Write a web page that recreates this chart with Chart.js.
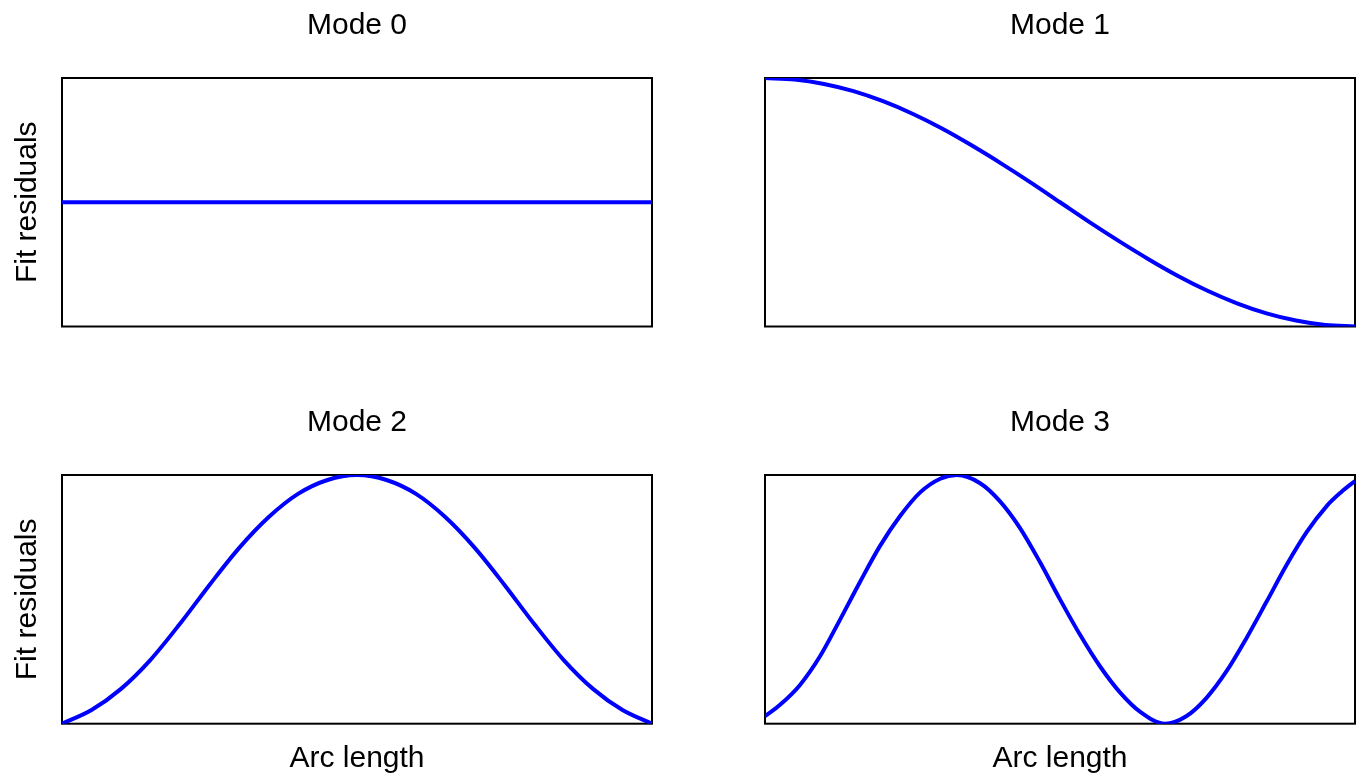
<!DOCTYPE html>
<html>
<head>
<meta charset="utf-8">
<script src="https://cdn.jsdelivr.net/npm/chart.js@4/dist/chart.umd.min.js"></script>
<style>
  html, body { margin: 0; padding: 0; background: #ffffff; }
  body { width: 1363px; height: 779px; position: relative; overflow: hidden; }
  canvas { position: absolute; }
</style>
</head>
<body>
<canvas id="m0" style="left:0px;top:0px;width:681px;height:389px" width="681" height="389"></canvas>
<canvas id="m1" style="left:681px;top:0px;width:682px;height:389px" width="682" height="389"></canvas>
<canvas id="m2" style="left:0px;top:389px;width:681px;height:390px" width="681" height="390"></canvas>
<canvas id="m3" style="left:681px;top:389px;width:682px;height:390px" width="682" height="390"></canvas>
<script>
// Normalised arc-length positions and mode shapes (range -1 .. 1)
const arcMode0 = [0, 1];
const mode0Values = [0, 0];

const arcMode1 = [0, 0.05, 0.10, 0.15, 0.20, 0.25, 0.30, 0.35, 0.40, 0.45, 0.50,
                  0.55, 0.60, 0.65, 0.70, 0.75, 0.80, 0.85, 0.90, 0.95, 1.0];
const mode1Values = [1, 0.988, 0.952, 0.894, 0.813, 0.712, 0.593, 0.458, 0.313, 0.16, 0,
                     -0.16, -0.313, -0.458, -0.593, -0.712, -0.813, -0.894, -0.952, -0.988, -1];

const arcMode2 = [0, 0.05, 0.10, 0.15, 0.20, 0.25, 0.30, 0.35, 0.40, 0.45, 0.50,
                  0.55, 0.60, 0.65, 0.70, 0.75, 0.80, 0.85, 0.90, 0.95, 1.0];
const mode2Values = [-1, -0.89, -0.72, -0.486, -0.196, 0.116, 0.412, 0.66, 0.848, 0.96, 1,
                     0.96, 0.848, 0.66, 0.412, 0.116, -0.196, -0.486, -0.72, -0.89, -1];

const arcMode3 = [0, 0.025, 0.059, 0.093, 0.127, 0.161, 0.195, 0.229, 0.263, 0.297, 0.325,
                  0.364, 0.398, 0.432, 0.466, 0.5, 0.534, 0.568, 0.602, 0.636, 0.678,
                  0.714, 0.748, 0.782, 0.816, 0.85, 0.884, 0.918, 0.952, 0.976, 1.0];
const mode3Values = [-0.94, -0.85, -0.69, -0.46, -0.165, 0.14, 0.43, 0.67, 0.86, 0.97, 1.0,
                     0.936, 0.79, 0.575, 0.30, 0.0, -0.285, -0.54, -0.75, -0.905, -1,
                     -0.94, -0.794, -0.58, -0.312, -0.02, 0.276, 0.54, 0.75, 0.86, 0.952];

const panelTitles = ['Mode 0', 'Mode 1', 'Mode 2', 'Mode 3'];
const yAxisLabel = 'Fit residuals';
const xAxisLabel = 'Arc length';

const FONT = "'Liberation Sans', Arial, Helvetica, sans-serif";

// Black box around each plotting area
const frame = {
  id: 'frame',
  beforeDatasetsDraw(chart) {
    const a = chart.chartArea, ctx = chart.ctx;
    ctx.save();
    ctx.strokeStyle = '#000000';
    ctx.lineWidth = 2;
    ctx.strokeRect(a.left, a.top, a.right - a.left, a.bottom - a.top);
    ctx.restore();
  }
};

function toPoints(xs, ys) {
  return xs.map((x, i) => ({ x: x, y: ys[i] }));
}

function makePanel(id, title, xs, ys, opts) {
  const showY = opts.showY, showX = opts.showX;
  new Chart(document.getElementById(id), {
    type: 'line',
    data: {
      datasets: [{
        data: toPoints(xs, ys),
        borderColor: '#0000ff',
        borderWidth: 4,
        pointRadius: 0,
        cubicInterpolationMode: 'monotone',
        fill: false
      }]
    },
    options: {
      responsive: false,
      animation: false,
      events: [],
      layout: { padding: opts.padding },
      plugins: {
        legend: { display: false },
        tooltip: { enabled: false },
        title: {
          display: true,
          text: title,
          fullSize: false,
          color: '#000000',
          font: { family: FONT, size: 30, weight: 'normal', lineHeight: 1.2 },
          padding: { top: opts.titleTop, bottom: opts.titleBottom }
        }
      },
      scales: {
        x: {
          type: 'linear',
          min: 0, max: 1,
          display: showX,
          grid: { display: false, drawTicks: false },
          border: { display: false },
          ticks: { display: false },
          title: {
            display: showX,
            text: xAxisLabel,
            color: '#000000',
            font: { family: FONT, size: 30, weight: 'normal', lineHeight: 1.2 },
            padding: { top: 0, bottom: 2 }
          },
          afterFit(scale) { if (showX) scale.height = opts.xHeight; }
        },
        y: {
          type: 'linear',
          min: -1, max: 1,
          display: showY,
          grid: { display: false, drawTicks: false },
          border: { display: false },
          ticks: { display: false },
          title: {
            display: showY,
            text: yAxisLabel,
            color: '#000000',
            font: { family: FONT, size: 30, weight: 'normal', lineHeight: 1.2 },
            padding: { top: 10, bottom: 0 }
          },
          afterFit(scale) { if (showY) scale.width = 62; }
        }
      }
    },
    plugins: [frame]
  });
}

makePanel('m0', panelTitles[0], arcMode0, mode0Values,
  { showY: true, showX: false, titleTop: 8, titleBottom: 34,
    padding: { left: 0, right: 29, top: 0, bottom: 62.5 } });
makePanel('m1', panelTitles[1], arcMode1, mode1Values,
  { showY: false, showX: false, titleTop: 8, titleBottom: 34,
    padding: { left: 84, right: 8, top: 0, bottom: 62.5 } });
makePanel('m2', panelTitles[2], arcMode2, mode2Values,
  { showY: true, showX: true, xHeight: 55.3, titleTop: 16, titleBottom: 34,
    padding: { left: 0, right: 29, top: 0, bottom: 0 } });
makePanel('m3', panelTitles[3], arcMode3, mode3Values,
  { showY: false, showX: true, xHeight: 55.3, titleTop: 16, titleBottom: 34,
    padding: { left: 84, right: 8, top: 0, bottom: 0 } });
</script>
</body>
</html>
